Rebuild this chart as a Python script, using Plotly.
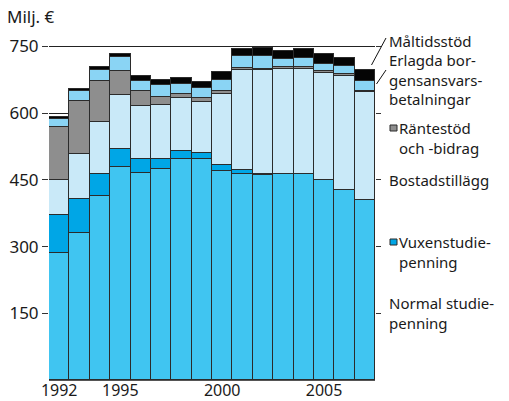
import plotly.graph_objects as go

years = list(range(1992, 2008))
normal = [285, 331, 414, 479, 465, 475, 497, 496, 470, 463, 462, 464, 463, 450, 428, 405]
vuxen = [86, 76, 50, 41, 31, 22, 17, 14, 13, 9, 2, 0, 0, 0, 0, 0]
bostad = [79, 102, 116, 121, 121, 122, 119, 116, 160, 224, 232, 235, 237, 241, 256, 242]
ranta = [118, 119, 93, 54, 33, 18, 11, 9, 7, 5, 4, 4, 3, 3, 3, 3]
erlagda = [18, 22, 24, 31, 23, 26, 21, 22, 25, 28, 28, 18, 20, 17, 18, 23]
maltid = [5, 5, 6, 8, 10, 12, 13, 14, 17, 16, 18, 18, 22, 22, 20, 24]

ytick_vals = [150, 300, 450, 600, 750]
xtick_vals = [1992, 1995, 2000, 2005]

series = [
    ("Normal studiepenning", normal, "#40C5F1"),
    ("Vuxenstudiepenning", vuxen, "#00A6E6"),
    ("Bostadstillägg", bostad, "#C9E9F8"),
    ("Räntestöd och -bidrag", ranta, "#8E8E8E"),
    ("Erlagda borgensansvarsbetalningar", erlagda, "#8AD4F4"),
    ("Måltidsstöd", maltid, "#050505"),
]

FONT = "Noto Sans"
TXT = "#1a1a1a"

fig = go.Figure()
for name, vals, col in series:
    fig.add_trace(go.Bar(x=years, y=vals, name=name, marker_color=col,
                         marker_line_color="#2b2b2b", marker_line_width=1))

# invisible trace for right-side ticks
fig.add_trace(go.Scatter(x=[years[0]], y=[0], yaxis="y2", mode="markers",
                         marker=dict(opacity=0), showlegend=False, hoverinfo="skip"))

W, H = 509, 401
L, R, T, B = 49, 134, 42, 21
pw, ph = W - L - R, H - T - B

def px(x):
    return (x - L) / pw

def py(y):
    return (H - B - y) / ph

annots = [
    ("Milj. €", 6, 16, 17),
    ("Måltidsstöd", 388, 40.5, 15),
    ("Erlagda bor-<br>gensansvars-<br>betalningar", 388, 79.5, 15),
    ("Räntestöd<br>och -bidrag", 398, 137.5, 15),
    ("Bostadstillägg", 388, 180, 15),
    ("Vuxenstudie-<br>penning", 398, 251.5, 15),
    ("Normal studie-<br>penning", 388, 312.5, 15),
]
annotations = [dict(text=t, x=px(x), y=py(y), xref="paper", yref="paper",
                    xanchor="left", yanchor="middle", align="left",
                    showarrow=False, borderpad=0,
                    font=dict(family=FONT, size=s, color=TXT))
               for t, x, y, s in annots]

shapes = [
    dict(type="line", xref="paper", yref="paper", x0=px(371.5), y0=py(65), x1=px(386), y1=py(38),
         line=dict(color="#111", width=1)),
    dict(type="line", xref="paper", yref="paper", x0=px(376.5), y0=py(84), x1=px(386), y1=py(70),
         line=dict(color="#111", width=1)),
    dict(type="rect", xref="paper", yref="paper", x0=px(390), y0=py(131), x1=px(397), y1=py(125),
         fillcolor="#8E8E8E", line=dict(color="#2b2b2b", width=1)),
    dict(type="rect", xref="paper", yref="paper", x0=px(390), y0=py(245), x1=px(397), y1=py(239),
         fillcolor="#00A6E6", line=dict(color="#2b2b2b", width=1)),
]

fig.update_layout(
    width=W, height=H,
    margin=dict(l=L, r=R, t=T, b=B),
    barmode="stack", bargap=0,
    plot_bgcolor="white", paper_bgcolor="white",
    showlegend=False,
    font=dict(family=FONT, color=TXT),
    xaxis=dict(range=[1991.5, 2007.5], tickvals=xtick_vals, ticks="",
               showgrid=False, showline=True, linecolor="#555", linewidth=1,
               tickfont=dict(size=16, color=TXT), ticklabelstandoff=-4,
               zeroline=False, automargin=False),
    yaxis=dict(range=[0, 760], tickvals=ytick_vals, ticks="outside", ticklen=6,
               tickcolor="#333", showgrid=True, gridcolor="#222", gridwidth=1,
               showline=False, zeroline=False, tickfont=dict(size=17, color=TXT),
               automargin=False),
    yaxis2=dict(range=[0, 760], overlaying="y", side="right", tickvals=ytick_vals,
                ticks="outside", ticklen=5, tickcolor="#333", showticklabels=False,
                showgrid=False, showline=False, zeroline=False, automargin=False),
    annotations=annotations,
    shapes=shapes,
)

fig.write_html("out.html", config={"displayModeBar": False},
               post_script="document.body.style.margin='0';")
